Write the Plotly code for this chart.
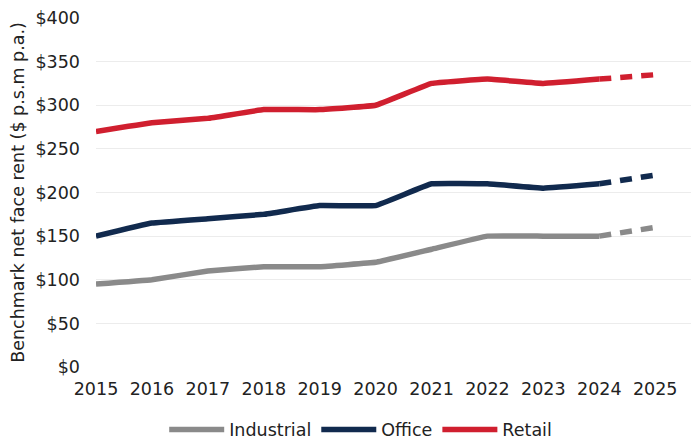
import plotly.graph_objects as go

years = [2015, 2016, 2017, 2018, 2019, 2020, 2021, 2022, 2023, 2024, 2025]
industrial = [95, 100, 110, 115, 115, 120, 135, 150, 150, 150, 160]
office = [150, 165, 170, 175, 185, 185, 210, 210, 205, 210, 220]
retail = [270, 280, 285, 295, 295, 300, 325, 330, 325, 330, 335]

y_ticks = [0, 50, 100, 150, 200, 250, 300, 350, 400]
y_labels = [f"${v}" for v in y_ticks]

series = [
    ("Industrial", industrial, "#8a8a8a"),
    ("Office", office, "#112a4e"),
    ("Retail", retail, "#d01f2f"),
]

FONT = "DejaVu Sans"
FS = 17.5
fig = go.Figure()
for name, vals, color in series:
    # actual values up to 2024
    fig.add_trace(go.Scatter(
        x=years[:-1], y=vals[:-1], mode="lines", name=name,
        line=dict(color=color, width=5.5, shape="spline", smoothing=0.2),
        hoverinfo="skip",
    ))
    # forecast segment 2024 -> 2025
    fig.add_trace(go.Scatter(
        x=years[-2:], y=vals[-2:], mode="lines", showlegend=False,
        line=dict(color=color, width=5.5, dash="12px,9px"),
        hoverinfo="skip",
    ))

fig.update_layout(
    width=691, height=443,
    margin=dict(l=96, r=0, t=18, b=76),
    paper_bgcolor="white", plot_bgcolor="white",
    font=dict(family=FONT, size=FS, color="#222222"),
    showlegend=True,
    legend=dict(
        orientation="h", xref="container", yref="container",
        x=0.522, xanchor="center", y=0.03, yanchor="middle",
        font=dict(size=FS, color="#222222"), itemwidth=55,
        traceorder="normal",
    ),
)
fig.update_xaxes(
    range=[2015, 2025.64], tickvals=years, ticktext=[str(y) for y in years],
    showgrid=False, zeroline=False, showline=False, ticks="",
    ticklabelstandoff=9, tickfont=dict(size=FS),
)
fig.update_yaxes(
    range=[0, 400], tickvals=y_ticks, ticktext=y_labels,
    showgrid=True, gridcolor="#ececec", gridwidth=1, zeroline=False,
    showline=False, ticks="", ticklabelstandoff=15,
    title=dict(text="Benchmark net face rent ($ p.s.m p.a.)", standoff=6,
               font=dict(size=FS)),
    tickfont=dict(size=FS),
)

fig.write_html("out.html")
